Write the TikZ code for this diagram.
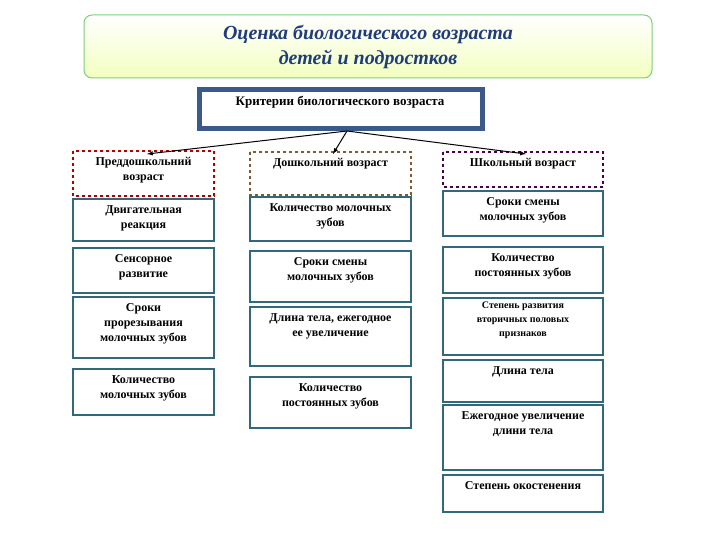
\documentclass[tikz,border=0pt]{standalone}
\usepackage{fontspec}
\setmainfont{Liberation Serif}
\begin{document}
\begin{tikzpicture}[x=1pt,y=-1pt,
  bx/.style={draw=boxc,line width=2.2pt,fill=white},
  txt/.style={anchor=north,align=center,font=\bfseries\fontsize{12}{15}\selectfont,inner sep=0pt},
  arr/.style={-latex,line width=1pt}]
\definecolor{boxc}{HTML}{31697A}
\definecolor{titc}{HTML}{1F3D7A}
\definecolor{crit}{HTML}{3A5A8A}
\useasboundingbox (0,0) rectangle (720,540);
\fill[white] (0,0) rectangle (720,540);
% title
\shade[top color=white,bottom color=green!20!yellow!25,rounded corners=8pt,draw=green!45!gray!70,line width=1pt] (84,15) rectangle (652,78);
\node[align=center,text=titc,font=\bfseries\itshape\fontsize{20}{25}\selectfont] (title) at (368,47) {Оценка биологического возраста\\детей и подростков};
% criteria
\draw[draw=crit,line width=5pt,fill=white] (199,90) rectangle (482,129);
\node[txt,font=\bfseries\fontsize{13}{15}\selectfont] (crit) at (340,96) {Критерии биологического возраста};
\coordinate (cs) at (347,131);
\coordinate (e1) at (147,154);
\coordinate (e2) at (333,154);
\coordinate (e3) at (526,154);
% helper
\newcommand{\bxx}[7]{\draw[bx,#6] (#1,#2) rectangle (#3,#4); \node[txt] (#7) at ({(#1+#3)/2},{#2+6}) {#5};}
% column 1
\bxx{73}{151}{214}{196}{Преддошкольний\\возраст}{draw=red!70!black,dashed}{h1}
\bxx{73}{199}{214}{241}{Двигательная\\реакция}{}{a1}
\bxx{73}{248}{214}{293}{Сенсорное\\развитие}{}{a2}
\bxx{73}{297}{214}{358}{Сроки\\прорезывания\\молочных зубов}{}{a3}
\bxx{73}{369}{214}{415}{Количество\\молочных зубов}{}{a4}
% column 2
\bxx{250}{152}{411}{195}{Дошкольний возраст}{draw=brown!70!black,dashed}{h2}
\bxx{250}{197}{411}{241}{Количество молочных\\зубов}{}{b1}
\bxx{250}{251}{411}{302}{Сроки смены\\молочных зубов}{}{b2}
\bxx{250}{307}{411}{366}{Длина тела, ежегодное\\ее увеличение}{}{b3}
\bxx{250}{377}{411}{428}{Количество\\постоянных зубов}{}{b4}
% column 3
\bxx{443}{152}{603}{187}{Школьный возраст}{draw=violet!60!black,dashed}{h3}
\bxx{443}{191}{603}{236}{Сроки смены\\молочных зубов}{}{c1}
\bxx{443}{247}{603}{293}{Количество\\постоянных зубов}{}{c2}
\draw[bx] (443,298) rectangle (603,355); \node[txt,font=\bfseries\fontsize{10}{14}\selectfont] (c3) at (523,302) {Степень развития\\вторичных половых\\признаков};
\bxx{443}{360}{603}{402}{Длина тела}{}{c4}
\bxx{443}{405}{603}{470}{Ежегодное увеличение\\длини тела}{}{c5}
\bxx{443}{475}{603}{512}{Степень окостенения}{}{c6}
% arrows
\draw[arr] (cs) -- (e1);
\draw[arr] (cs) -- (e2);
\draw[arr] (cs) -- (e3);
\end{tikzpicture}
\end{document}
